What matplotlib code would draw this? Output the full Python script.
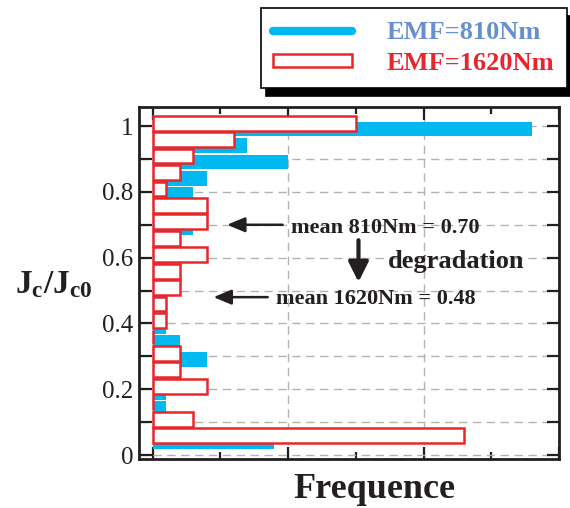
import numpy as np
import matplotlib
matplotlib.use("Agg")
import matplotlib.pyplot as plt
from matplotlib.lines import Line2D
from matplotlib.patches import Patch
from matplotlib.ticker import MultipleLocator

plt.rcParams['font.family'] = ['Liberation Serif', 'DejaVu Serif']
plt.rcParams['mathtext.fontset'] = 'custom'
plt.rcParams['mathtext.rm'] = 'Liberation Serif'
plt.rcParams['mathtext.bf'] = 'Liberation Serif:bold'
plt.rcParams['mathtext.it'] = 'Liberation Serif:italic'

# Jc/Jc0 bins (top to bottom) and counts per bin
jc_bins = [1.00, 0.95, 0.90, 0.85, 0.80, 0.75, 0.70, 0.65, 0.60, 0.55,
           0.50, 0.45, 0.40, 0.35, 0.30, 0.25, 0.20, 0.15, 0.10, 0.05]
count_810 = [28, 7, 10, 4, 3, 2, 3, 1, 1, 1,
             1, 0, 1, 2, 4, 1, 1, 1, 2, 9]
count_1620 = [15, 6, 3, 2, 1, 4, 4, 2, 4, 2,
              2, 1, 1, 0, 2, 2, 4, 0, 3, 23]
ytick_vals = [0, 0.2, 0.4, 0.6, 0.8, 1.0]
ytick_labels = ['0', '0.2', '0.4', '0.6', '0.8', '1']
series_labels = ['EMF=810Nm', 'EMF=1620Nm']
mean_810 = 0.70
mean_1620 = 0.48

blue = '#00b9f1'
red = '#e8262b'
dark = '#231f20'

fig = plt.figure(figsize=(5.7, 5.08), dpi=100)
ax = fig.add_axes([139 / 570, 1 - 459 / 508, 420 / 570, 352 / 508])

y = np.array(jc_bins)
ax.barh(y - 0.009, count_810, height=0.045, color=blue, zorder=2)
ax.barh(y + 0.009, count_1620, height=0.045, facecolor='white',
        edgecolor=red, linewidth=1.8, zorder=3)

ax.set_xlim(-1, 30)
ax.set_ylim(-0.012, 1.058)

ax.xaxis.set_major_locator(MultipleLocator(10))
ax.xaxis.set_minor_locator(MultipleLocator(5))
ax.set_yticks(ytick_vals, ytick_labels)
ax.yaxis.set_minor_locator(MultipleLocator(0.1))

ax.set_axisbelow(True)
grid_kw = dict(color='#b3b3b3', linewidth=1.0, linestyle=(0, (6, 4)))
ax.grid(True, which='both', axis='y', **grid_kw)
ax.grid(True, which='major', axis='x', **grid_kw)

for s in ax.spines.values():
    s.set_linewidth(2.0)
    s.set_color(dark)
ax.tick_params(which='both', direction='in', top=True, right=True,
               width=1.6, color=dark, labelbottom=False)
ax.tick_params(axis='y', which='both', length=9)
ax.tick_params(axis='x', which='major', length=9)
ax.tick_params(axis='x', which='minor', length=5)
ax.tick_params(axis='y', labelsize=18, pad=4, labelcolor=dark)

# mean markers and degradation arrow
arrow_thin = dict(arrowstyle='-|>,head_length=0.6,head_width=0.25', lw=1.8,
                  color=dark, mutation_scale=18, shrinkA=0, shrinkB=0)
ax.annotate('', xy=(5.5, mean_810), xytext=(9.6, mean_810), arrowprops=arrow_thin)
ax.text(10.2, 0.675, 'mean 810Nm = 0.70', fontsize=16, fontweight='bold',
        color=dark, ha='left', va='baseline')
ax.annotate('', xy=(4.5, mean_1620), xytext=(8.5, mean_1620), arrowprops=arrow_thin)
ax.text(9.1, 0.459, 'mean 1620Nm = 0.48', fontsize=16, fontweight='bold',
        color=dark, ha='left', va='baseline')
ax.annotate('', xy=(15.2, 0.526), xytext=(15.2, 0.653),
            arrowprops=dict(arrowstyle='-|>,head_length=0.6,head_width=0.3', lw=3,
                            color=dark, mutation_scale=20, shrinkA=0, shrinkB=0))
ax.text(17.4, 0.568, 'degradation', fontsize=19, fontweight='bold',
        color=dark, ha='left', va='baseline')

fig.text(374 / 570, 1 - 498 / 508, 'Frequence', ha='center', va='baseline',
         fontsize=26, fontweight='bold', color=dark)
fig.text(15 / 570, 1 - 293 / 508, r'$\mathbf{J_c/J_{c0}}$', ha='left',
         va='baseline', fontsize=24, color=dark)

handles = [Line2D([], [], color=blue, lw=6, solid_capstyle='round'),
           Patch(facecolor='white', edgecolor=red, linewidth=1.8)]
leg = fig.legend(handles, series_labels, loc='upper right',
                 bbox_to_anchor=(567 / 570, 1 - 8 / 508), borderaxespad=0,
                 prop={'weight': 'bold', 'size': 19}, fancybox=False,
                 edgecolor='black', framealpha=1, handlelength=3.0,
                 handleheight=0.35, handletextpad=1.3, borderpad=0.48,
                 labelspacing=0.32,
                 shadow={'ox': 4, 'oy': -6, 'color': 'black', 'alpha': 1})
leg.get_frame().set_linewidth(1.2)
for t, c in zip(leg.get_texts(), ['#6690cf', red]):
    t.set_color(c)

fig.savefig('out.png', dpi=100)
